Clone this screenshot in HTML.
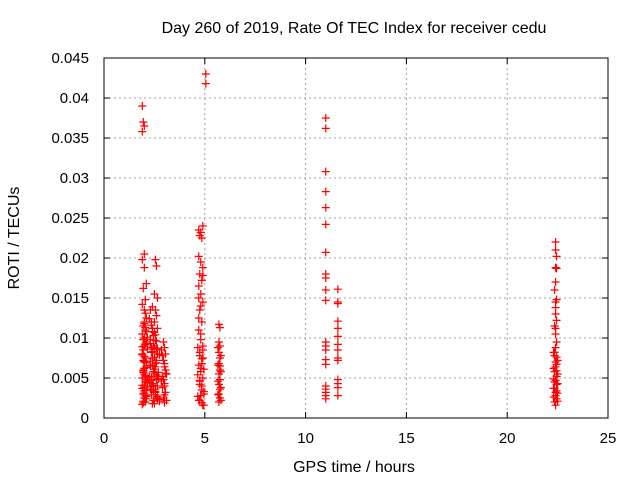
<!DOCTYPE html>
<html><head><meta charset="utf-8"><style>
body{margin:0;background:#fff}
svg{display:block;font-family:"Liberation Sans",sans-serif}
</style></head><body>
<svg id="chart" width="640" height="480">
<text x="354" y="33" font-size="16" text-anchor="middle">Day 260 of 2019, Rate Of TEC Index for receiver cedu</text>
<text x="354" y="472" font-size="16" text-anchor="middle">GPS time / hours</text>
<text x="0" y="0" font-size="16" text-anchor="middle" transform="translate(19,238) rotate(-90)">ROTI / TECUs</text>
<g id="grid"></g><g id="ticks"></g><g id="pts"></g>
<rect x="104" y="58" width="504" height="360" fill="none" stroke="#000" stroke-width="1"/>
</svg>
<script>
const xTicks=[0,5,10,15,20,25];
const yTicks=[0,0.005,0.01,0.015,0.02,0.025,0.03,0.035,0.04,0.045];
const yTickLabels=["0","0.005","0.01","0.015","0.02","0.025","0.03","0.035","0.04","0.045"];
const times=[
1.9,1.95,2.0,1.9,2.0,
1.9,2.0,2.1,1.95,2.05,1.9,2.0,2.1,2.0,1.95,2.05,1.9,2.0,2.1,2.0,1.95,1.9,2.05,2.0,2.1,1.95,2.0,1.9,2.05,2.0,2.1,1.95,2.0,2.05,1.9,2.0,2.1,2.0,1.95,2.05,
2.3,2.35,2.4,2.3,2.45,2.35,2.4,2.3,2.45,2.35,2.4,2.3,2.35,2.45,2.4,2.3,2.35,2.4,
2.55,2.6,2.5,2.65,2.55,2.6,2.5,2.65,2.55,2.6,2.5,2.65,2.6,2.55,2.5,2.6,2.65,2.55,2.6,2.5,2.55,2.65,2.6,2.55,
2.95,3.0,3.05,2.95,3.0,3.05,2.95,3.0,3.05,2.95,3.0,3.05,
4.7,4.8,4.9,4.75,4.85,4.7,4.8,4.9,4.75,4.85,4.7,4.8,4.9,4.75,4.85,4.7,4.8,4.9,4.75,4.85,4.7,4.8,4.9,4.75,4.85,4.8,4.7,4.9,4.8,4.75,5.05,5.05,4.9,4.95,
5.7,5.75,5.7,5.75,5.7,5.75,5.7,5.75,5.7,5.75,5.7,5.75,5.7,5.75,5.7,5.75,
11.0,11.0,11.0,11.0,11.0,11.0,11.0,11.0,11.0,11.0,11.0,11.0,11.0,11.0,11.0,11.0,11.0,11.0,11.0,11.0,11.0,
11.6,11.6,11.6,11.6,11.6,11.6,11.6,11.6,11.6,11.6,11.6,11.6,11.6,11.6,
22.4,22.4,22.45,22.4,22.45,22.4,22.35,22.45,22.4,22.4,22.45,22.35,22.4,22.45,22.4,22.35,22.45,22.4,22.4,22.35,22.45,22.4,22.45,22.35,22.4,22.4,22.45,22.35,22.4,22.45,
2.0,2.1,1.95,2.05,2.15,1.9,2.0,2.1,1.95,2.05,2.15,1.9,2.0,2.1,1.95,2.05,2.15,1.9,2.0,2.1,1.95,2.05,2.15,1.9,2.0,2.1,1.95,2.05,
2.25,2.35,2.45,2.55,2.65,2.75,2.3,2.4,2.5,2.6,2.7,2.25,2.35,2.45,2.55,2.65,2.75,2.3,2.4,2.5,2.6,2.7,2.25,2.35,2.45,2.55,2.65,2.75,2.4,2.5,
2.85,2.9,3.0,3.1,2.85,2.9,3.0,3.1,2.9,3.0,
4.65,4.75,4.85,4.95,4.65,4.75,4.85,4.95,4.65,4.75,4.85,4.95,4.7,4.8,4.9,4.7,4.8,4.9,
5.65,5.8,5.65,5.8,5.65,5.8,5.65,5.8,
22.3,22.5,22.3,22.5,22.3,22.5,22.3,22.5,22.3,22.5,22.35,22.45,22.35,22.45,22.4,22.4
];
const rotiValues=[
0.039,0.037,0.0365,0.0358,0.0205,
0.0198,0.0188,0.0168,0.0162,0.0148,0.0142,0.0135,0.0125,0.012,0.0115,0.011,0.0105,0.01,0.0095,0.009,0.0085,0.008,0.0075,0.007,0.0065,0.006,0.0055,0.005,0.0045,0.004,0.0035,0.003,0.0025,0.002,0.0017,0.0062,0.0048,0.0038,0.0072,0.0028,
0.0135,0.012,0.0108,0.0098,0.009,0.0082,0.0074,0.0066,0.0058,0.005,0.0043,0.0036,0.0029,0.0022,0.0018,0.0065,0.0088,0.0112,
0.0198,0.019,0.0155,0.015,0.0135,0.0128,0.012,0.0112,0.0104,0.0096,0.0088,0.008,0.0072,0.0064,0.0056,0.0048,0.004,0.0032,0.0025,0.0018,0.0068,0.0052,0.0086,0.0036,
0.0095,0.0088,0.008,0.0072,0.0064,0.0056,0.0048,0.004,0.0032,0.0025,0.0019,0.006,
0.0235,0.0232,0.024,0.0228,0.0225,0.0202,0.0195,0.0188,0.018,0.0172,0.0165,0.0155,0.0145,0.0135,0.012,0.011,0.0098,0.009,0.0082,0.0074,0.0066,0.0058,0.005,0.0042,0.0035,0.0028,0.0022,0.0016,0.0062,0.0046,0.043,0.0418,0.0075,0.003,
0.0117,0.0113,0.0095,0.009,0.0082,0.0075,0.0068,0.006,0.0055,0.0048,0.0042,0.0036,0.003,0.0025,0.002,0.0065,
0.0375,0.0362,0.0308,0.0283,0.0263,0.0242,0.0207,0.018,0.0175,0.016,0.0147,0.0095,0.009,0.0085,0.0073,0.0067,0.004,0.0036,0.0032,0.0028,0.0024,
0.0161,0.0145,0.0143,0.0121,0.0112,0.0102,0.0092,0.0085,0.0075,0.0072,0.0048,0.0043,0.0038,0.0028,
0.022,0.021,0.0202,0.0188,0.0187,0.017,0.016,0.0148,0.0145,0.013,0.0122,0.0115,0.0105,0.0095,0.0088,0.0082,0.0076,0.007,0.0064,0.0058,0.0052,0.0047,0.0042,0.0037,0.0032,0.0028,0.0024,0.002,0.0016,0.0067,
0.0118,0.0108,0.0098,0.0092,0.0086,0.0079,0.0071,0.0063,0.0057,0.0051,0.0046,0.0041,0.0034,0.0027,0.0021,0.0113,0.0101,0.0089,0.0077,0.0069,0.0059,0.0053,0.0044,0.0037,0.0031,0.0024,0.0019,0.0131,
0.0124,0.0116,0.0103,0.0097,0.0087,0.0079,0.0071,0.0066,0.0061,0.0054,0.0049,0.0044,0.0039,0.0034,0.0029,0.0024,0.0021,0.0093,0.0083,0.0076,0.0069,0.0057,0.0052,0.0047,0.0041,0.0033,0.0027,0.0023,0.0139,0.0107,
0.0085,0.0078,0.0068,0.0055,0.0046,0.0038,0.0029,0.0022,0.0052,0.0043,
0.0088,0.0078,0.0068,0.0061,0.0054,0.0047,0.004,0.0033,0.0027,0.0022,0.0019,0.0016,0.0125,0.0105,0.0085,0.0150,0.0140,0.0178,
0.0088,0.0078,0.0066,0.0058,0.0046,0.0038,0.0029,0.0022,
0.0082,0.0072,0.0062,0.0055,0.0049,0.0043,0.0037,0.0031,0.0026,0.0021,0.0078,0.0059,0.0045,0.0034,0.0112,0.0138
];
const X0=104,X1=608,Y0=418,Y1=58,XMAX=25,YMAX=0.045;
const sx=v=>X0+(X1-X0)*v/XMAX;
const sy=v=>Y0-(Y0-Y1)*v/YMAX;
const NS="http://www.w3.org/2000/svg";
function mk(tag,attrs,parent){const e=document.createElementNS(NS,tag);for(const k in attrs)e.setAttribute(k,attrs[k]);parent.appendChild(e);return e;}
const grid=document.getElementById('grid'),ticks=document.getElementById('ticks'),pts=document.getElementById('pts');
xTicks.forEach(t=>{const x=sx(t);
 if(t>0&&t<XMAX){const g=mk('line',{x1:x,x2:x,y1:Y1,y2:Y0,stroke:'#a0a0a0','stroke-dasharray':'2,3'},grid);
 
 }
 mk('line',{x1:x,x2:x,y1:Y0,y2:Y0-6,stroke:'#000'},ticks);mk('line',{x1:x,x2:x,y1:Y1,y2:Y1+6,stroke:'#000'},ticks);
 const l=mk('text',{x:x,y:Y0+25,'font-size':15,'text-anchor':'middle'},ticks);l.textContent=t;
 
 });
yTicks.forEach((t,i)=>{const y=sy(t);
 if(t>0&&t<YMAX){const g=mk('line',{x1:X0,x2:X1,y1:y,y2:y,stroke:'#a0a0a0','stroke-dasharray':'2,3'},grid);
 
 }
 mk('line',{x1:X0,x2:X0+6,y1:y,y2:y,stroke:'#000'},ticks);mk('line',{x1:X1,x2:X1-6,y1:y,y2:y,stroke:'#000'},ticks);
 const l=mk('text',{x:X0-15,y:y+5,'font-size':15,'text-anchor':'end'},ticks);l.textContent=yTickLabels[i];
 
 });
times.forEach((t,i)=>{const x=sx(t),y=sy(rotiValues[i]);
 const p=mk('path',{d:`M${x-4} ${y}H${x+4}M${x} ${y-4}V${y+4}`,stroke:'#ff0000','stroke-width':1.2,fill:'none'},pts);
 
 });
</script>
</body></html>
